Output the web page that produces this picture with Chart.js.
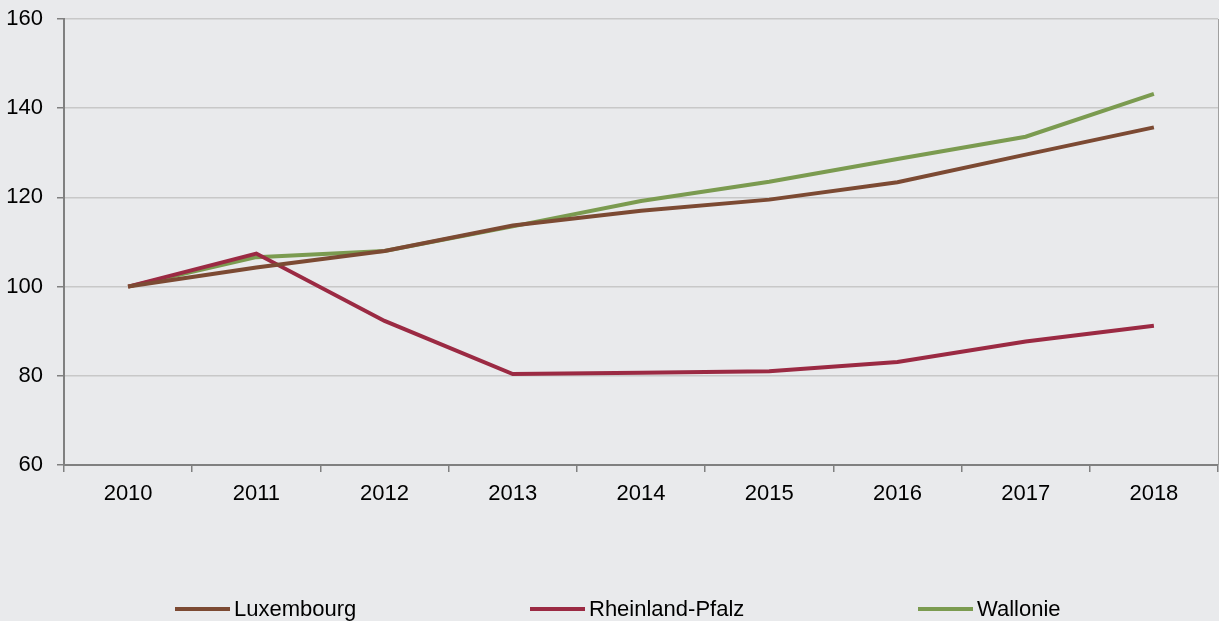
<!DOCTYPE html>
<html>
<head>
<meta charset="utf-8">
<script src="https://cdn.jsdelivr.net/npm/chart.js@4"></script>
<style>
  body { margin: 0; background: #e9eaec; font-family: "Liberation Sans", Arial, sans-serif; }
  #wrap { position: relative; width: 1219px; height: 621px; }
  #legenda .item { position: absolute; top: 596px; display: flex; align-items: center; font-size: 22px; color: #000; }
  #legenda .item span { display: inline-block; width: 55px; height: 4px; margin-right: 4px; }
</style>
</head>
<body>
<div id="wrap">
  <canvas id="grafico"></canvas>
  <div id="legenda"></div>
</div>
<script>
const anos = ['2010', '2011', '2012', '2013', '2014', '2015', '2016', '2017', '2018'];
const luxembourg = [100, 104.3, 108, 113.7, 117, 119.5, 123.4, 129.6, 135.7];
const rheinlandPfalz = [100, 107.4, 92.3, 80.4, 80.7, 81, 83.1, 87.7, 91.2];
const wallonie = [100, 106.6, 108, 113.5, 119.2, 123.5, 128.6, 133.6, 143.2];
const nomes = ['Luxembourg', 'Rheinland-Pfalz', 'Wallonie'];
const cores = ['#7c4a33', '#9b2a43', '#7b9b50'];

const fundo = {
  id: 'fundo',
  beforeDraw(chart) {
    const c = chart.ctx;
    c.save();
    c.fillStyle = '#e9eaec';
    c.fillRect(0, 0, chart.width, chart.height);
    c.restore();
  },
  afterDatasetsDraw(chart) {
    // borda direita da area do grafico
    const c = chart.ctx, a = chart.chartArea;
    c.save();
    c.strokeStyle = '#a0a0a0';
    c.lineWidth = 1;
    c.beginPath();
    c.moveTo(a.right + 0.5, a.top);
    c.lineTo(a.right + 0.5, a.bottom);
    c.stroke();
    c.restore();
  }
};

const series = [luxembourg, rheinlandPfalz, wallonie];
const ctx = document.getElementById('grafico').getContext('2d');
const grafico = new Chart(ctx, {
  type: 'line',
  data: {
    labels: anos,
    datasets: series.map((d, i) => ({
      label: nomes[i],
      data: d,
      borderColor: cores[i],
      backgroundColor: cores[i],
      borderWidth: 4,
      pointRadius: 0,
      tension: 0
    }))
  },
  options: {
    responsive: true,
    maintainAspectRatio: false,
    animation: false,
    layout: { padding: { top: 19, right: 1, left: 0, bottom: 0 } },
    plugins: { legend: { display: false }, tooltip: { enabled: false } },
    scales: {
      x: {
        offset: true,
        grid: { offset: true, drawOnChartArea: false, tickLength: 7, color: '#808080', lineWidth: 1.5 },
        border: { color: '#808080', width: 2 },
        ticks: { color: '#000', padding: 9, maxRotation: 0, font: { family: 'Liberation Sans', size: 22 } },
        afterFit(s) { s.height = 156; s.paddingLeft = 0; s.paddingRight = 0; }
      },
      y: {
        min: 60,
        max: 160,
        ticks: { stepSize: 20, color: '#000', padding: 14, font: { family: 'Liberation Sans', size: 22 } },
        grid: { color: '#c8c8c8', lineWidth: 1.5, tickLength: 7, tickColor: '#808080' },
        border: { color: '#808080', width: 2 },
        afterFit(s) { s.width = 64; s.paddingTop = 0; s.paddingBottom = 0; }
      }
    }
  },
  plugins: [fundo]
});

// legenda abaixo do grafico
const legenda = document.getElementById('legenda');
const posicoes = [175, 530, 918];
nomes.forEach((nome, i) => {
  legenda.innerHTML += `<div class="item" style="left:${posicoes[i]}px"><span style="background:${cores[i]}"></span>${nome}</div>`;
});
</script>
</body>
</html>
